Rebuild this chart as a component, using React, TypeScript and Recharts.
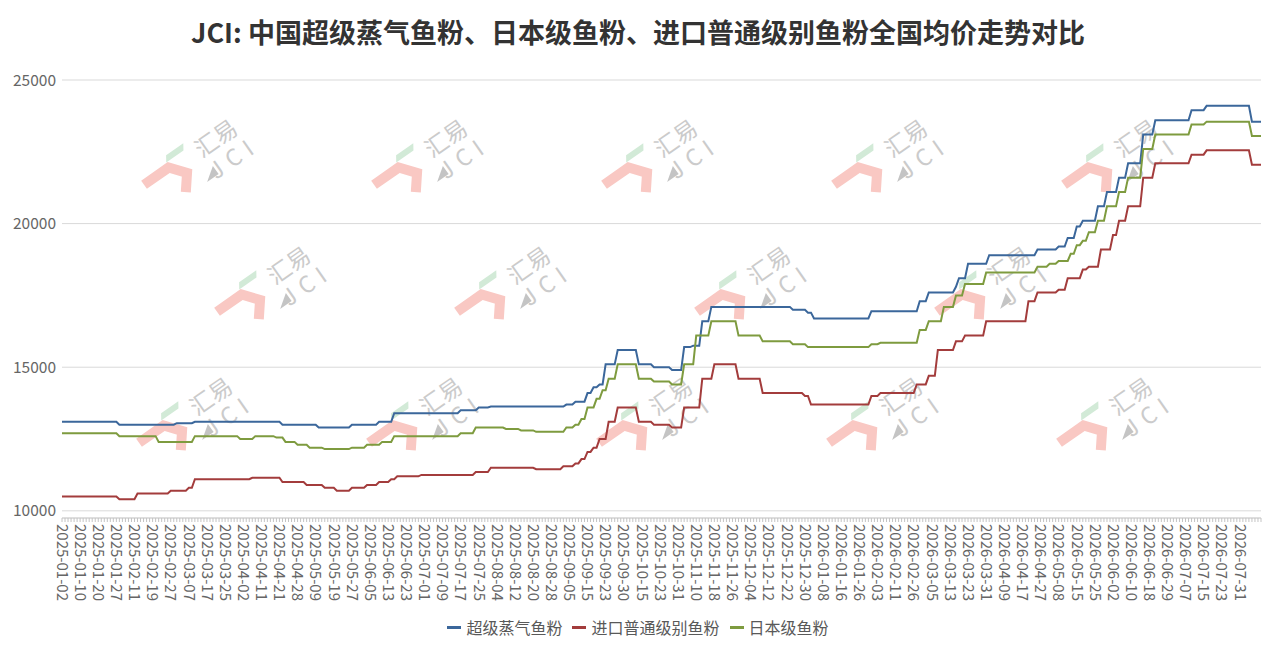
import React from 'react';
import { LineChart, Line, XAxis, YAxis, CartesianGrid, Legend } from 'recharts';

// ---------- calendar (Chinese working days) ----------
const FIRST_DAY = '2025-01-02';
const LAST_DAY = '2026-08-11';
const LAST_LABEL_DAY = '2026-07-31';
const HOLIDAYS = [
  '2025-01-01', '2025-01-28', '2025-01-29', '2025-01-30', '2025-01-31', '2025-02-03', '2025-02-04',
  '2025-04-04', '2025-05-01', '2025-05-02', '2025-05-05', '2025-06-02',
  '2025-10-01', '2025-10-02', '2025-10-03', '2025-10-06', '2025-10-07', '2025-10-08',
  '2026-01-01', '2026-01-02', '2026-02-16', '2026-02-17', '2026-02-18', '2026-02-19', '2026-02-20',
  '2026-02-23', '2026-04-06', '2026-05-01', '2026-05-04', '2026-05-05', '2026-06-19',
];
const MAKEUP_WORKDAYS = [
  '2025-01-26', '2025-02-08', '2025-04-27', '2025-09-28', '2025-10-11',
  '2026-01-04', '2026-02-14', '2026-02-28', '2026-05-09',
];
const LABEL_EVERY = 6;

// ---------- series (price levels: [trading-day index where level starts, price]) ----------
const SERIES_NAMES = ['超级蒸气鱼粉', '进口普通级别鱼粉', '日本级鱼粉'];
const SERIES_KEYS = ['superSteam', 'importNormal', 'japanGrade'];
const SERIES_COLORS = ['#3B679B', '#A33C3C', '#7E9B3F'];

const SUPER_STEAM_STEPS: [number, number][] = [
  [0, 13100], [19, 13000], [38, 13050], [44, 13100], [73, 13000], [85, 12900], [96, 13000],
  [105, 13100], [110, 13400], [132, 13500], [138, 13600], [142, 13630], [167, 13700],
  [170, 13800], [174, 14100], [176, 14300], [178, 14400], [180, 15100], [184, 15600],
  [191, 15100], [196, 15000], [202, 14900], [206, 15700], [209, 15750], [212, 16600],
  [215, 17100], [242, 17000], [247, 16900], [249, 16700], [268, 16950], [284, 17300],
  [287, 17600], [296, 17800], [297, 18100], [300, 18600], [307, 18900], [323, 19100],
  [330, 19200], [333, 19500], [336, 19900], [338, 20100], [343, 20600], [346, 21100],
  [350, 21600], [353, 22100], [358, 23100], [362, 23600], [374, 23950], [379, 24100],
  [394, 23550],
];

const IMPORT_NORMAL_STEPS: [number, number][] = [
  [0, 10500], [19, 10400], [25, 10600], [36, 10700], [42, 10800], [44, 11100], [63, 11150],
  [73, 11000], [81, 10900], [87, 10800], [91, 10700], [96, 10800], [101, 10900], [105, 11000],
  [109, 11100], [111, 11200], [119, 11250], [137, 11350], [142, 11500], [157, 11450],
  [166, 11550], [170, 11650], [172, 11800], [174, 12050], [176, 12200], [178, 12500],
  [181, 13100], [184, 13600], [191, 13100], [196, 13000], [202, 12900], [206, 13600],
  [212, 14600], [216, 15100], [224, 14600], [232, 14100], [246, 14000], [248, 13700],
  [268, 14000], [271, 14100], [283, 14400], [287, 14700], [290, 15600], [296, 15900],
  [299, 16100], [306, 16600], [320, 17300], [323, 17600], [330, 17700], [333, 18100],
  [338, 18400], [340, 18500], [344, 19100], [348, 19600], [350, 20100], [353, 20600],
  [358, 21600], [362, 22100], [374, 22400], [379, 22550], [394, 22050],
];

const JAPAN_GRADE_STEPS: [number, number][] = [
  [0, 12700], [19, 12600], [32, 12400], [44, 12600], [59, 12500], [64, 12600], [71, 12550],
  [74, 12400], [78, 12300], [82, 12200], [87, 12150], [96, 12200], [101, 12300], [106, 12400],
  [110, 12600], [132, 12700], [137, 12900], [147, 12850], [152, 12800], [157, 12750],
  [167, 12900], [170, 13000], [172, 13200], [174, 13600], [177, 13900], [179, 14200],
  [181, 14600], [184, 15100], [191, 14600], [196, 14500], [202, 14400], [206, 15100],
  [210, 16100], [215, 16600], [224, 16100], [232, 15900], [242, 15800], [247, 15700],
  [268, 15800], [271, 15850], [284, 16300], [287, 16600], [292, 17100], [296, 17500],
  [299, 17900], [306, 18300], [323, 18500], [327, 18600], [330, 18700], [334, 18950],
  [336, 19250], [338, 19400], [340, 19700], [343, 20100], [346, 20600], [350, 21100],
  [353, 21600], [358, 22600], [362, 23100], [374, 23450], [379, 23550], [394, 23050],
];

const Y_TICKS = [10000, 15000, 20000, 25000];
const Y_DOMAIN: [number, number] = [9750, 25000];

const TITLE = 'JCI: 中国超级蒸气鱼粉、日本级鱼粉、进口普通级别鱼粉全国均价走势对比';

// watermark logo anchors (pink mark centre)
const WATERMARKS: [number, number][] = [
  [170, 180], [400, 180], [630, 180], [860, 180], [1090, 180],
  [243, 307], [483, 307], [723, 307], [963, 307],
  [165, 438], [395, 438], [625, 438], [855, 438], [1085, 438],
];

// ---------- helpers ----------
function tradingDays(): string[] {
  const out: string[] = [];
  const [y, m, d] = FIRST_DAY.split('-').map(Number);
  const cur = new Date(Date.UTC(y, m - 1, d));
  for (;;) {
    const iso = cur.toISOString().slice(0, 10);
    if (iso > LAST_DAY) break;
    const wd = cur.getUTCDay();
    const weekend = wd === 0 || wd === 6;
    if ((!weekend && !HOLIDAYS.includes(iso)) || MAKEUP_WORKDAYS.includes(iso)) out.push(iso);
    cur.setUTCDate(cur.getUTCDate() + 1);
  }
  return out;
}

function expandSteps(steps: [number, number][], n: number): number[] {
  const vals: number[] = [];
  let k = 0;
  for (let i = 0; i < n; i++) {
    while (k + 1 < steps.length && steps[k + 1][0] <= i) k++;
    vals.push(steps[k][1]);
  }
  return vals;
}

const DATES = tradingDays();
const seriesValues = [SUPER_STEAM_STEPS, IMPORT_NORMAL_STEPS, JAPAN_GRADE_STEPS].map((s) =>
  expandSteps(s, DATES.length)
);
const chartData = DATES.map((date, i) => {
  const row: Record<string, string | number> = { date };
  SERIES_KEYS.forEach((key, s) => {
    row[key] = seriesValues[s][i];
  });
  return row;
});

const FONT = '"Noto Sans CJK SC", "Noto Sans", sans-serif';

const XTick = (props: any) => {
  const { x, y, payload } = props;
  const idx = payload && typeof payload.index === 'number' ? payload.index : props.index;
  if (idx % LABEL_EVERY !== 0 || payload.value > LAST_LABEL_DAY) return <g />;
  return (
    <text
      x={x}
      y={y}
      transform={`rotate(90, ${x}, ${y})`}
      textAnchor="start"
      dy="0.35em"
      fill="#666666"
      fontSize={15}
      fontFamily={FONT}
    >
      {payload.value}
    </text>
  );
};

const LegendContent = () => (
  <div
    style={{
      display: 'flex',
      justifyContent: 'center',
      alignItems: 'center',
      height: 26,
      fontFamily: FONT,
      fontSize: 16,
      color: '#595959',
    }}
  >
    {SERIES_NAMES.map((name, i) => (
      <div key={name} style={{ display: 'flex', alignItems: 'center', margin: '0 5px' }}>
        <span
          style={{ display: 'inline-block', width: 14, height: 3, background: SERIES_COLORS[i], marginRight: 5 }}
        />
        <span>{name}</span>
      </div>
    ))}
  </div>
);

const Logo = ({ cx, cy }: { cx: number; cy: number }) => {
  const rot = -35;
  const part = (dx: number, dy: number, child: React.ReactNode, key: string) => (
    <g key={key} transform={`translate(${cx + dx}, ${cy + dy}) rotate(${rot})`}>
      {child}
    </g>
  );
  return (
    <g>
      {part(0, 0, <path d="M-24,-11 L6,-11 L18,4 L6,19" stroke="#f9c8c3" strokeWidth={10} fill="none" />, 'p')}
      {part(6, -28, <polygon points="-10,-3 11,-3 7,3 -14,3" fill="#d2ead7" />, 'g')}
      {part(
        45,
        -43,
        <text textAnchor="middle" dominantBaseline="central" fontSize={23} fill="#cbcbcb" fontFamily={FONT}>
          汇易
        </text>,
        'h'
      )}
      {part(40, -6, <polygon points="-7,5 7,-5 7,5" fill="#c4c4c4" />, 't')}
      {part(
        63,
        -24,
        <text
          textAnchor="middle"
          dominantBaseline="central"
          fontSize={23}
          letterSpacing={7}
          fill="#cbcbcb"
          fontFamily={FONT}
        >
          JCI
        </text>,
        'j'
      )}
    </g>
  );
};

export default function App() {
  return (
    <div style={{ position: 'absolute', left: 0, top: 0, width: 1276, height: 651, background: '#fff' }}>
      <svg width={1276} height={651} style={{ position: 'absolute', left: 0, top: 0 }}>
        {WATERMARKS.map(([x, y], i) => (
          <Logo key={i} cx={x} cy={y} />
        ))}
      </svg>
      <div
        style={{
          position: 'absolute',
          left: 0,
          top: 14,
          width: 1276,
          textAlign: 'center',
          fontFamily: FONT,
          fontSize: 27,
          fontWeight: 700,
          lineHeight: '36px',
          color: '#333333',
        }}
      >
        {TITLE}
      </div>
      <div style={{ position: 'absolute', left: 0, top: 0 }}>
        <LineChart width={1276} height={651} data={chartData} margin={{ top: 80, right: 15, bottom: 11, left: 0 }}>
          <CartesianGrid vertical={false} stroke="#d9d9d9" />
          <XAxis
            dataKey="date"
            interval={0}
            tick={XTick}
            tickSize={4}
            tickMargin={2}
            height={96}
            axisLine={{ stroke: '#d0d0d0' }}
            tickLine={{ stroke: '#c4c4c4' }}
          />
          <YAxis
            type="number"
            domain={Y_DOMAIN}
            ticks={Y_TICKS}
            allowDataOverflow
            width={62}
            axisLine={false}
            tickLine={false}
            tickSize={0}
            tickMargin={6}
            tick={{ fill: '#666666', fontSize: 15.5, fontFamily: FONT }}
          />
          <Legend
            verticalAlign="bottom"
            content={LegendContent}
            wrapperStyle={{ left: 0, width: 1276 }}
          />
          {SERIES_KEYS.map((key, i) => (
            <Line
              key={key}
              type="linear"
              dataKey={key}
              name={SERIES_NAMES[i]}
              stroke={SERIES_COLORS[i]}
              strokeWidth={2}
              dot={false}
              activeDot={false}
              isAnimationActive={false}
            />
          ))}
        </LineChart>
      </div>
    </div>
  );
}
